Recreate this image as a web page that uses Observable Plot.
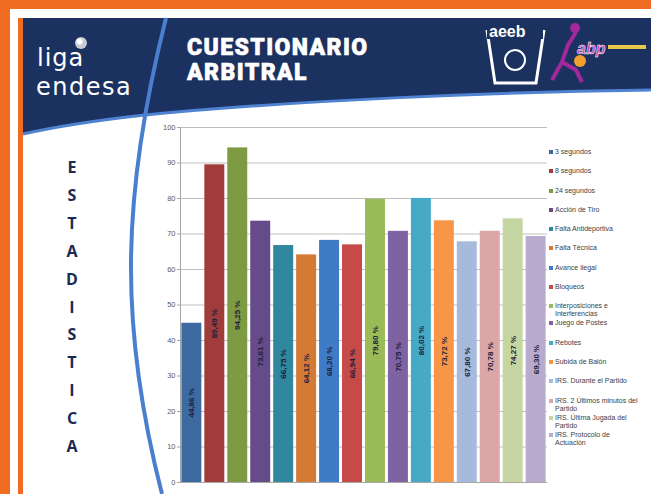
<!DOCTYPE html>
<html>
<head>
<meta charset="utf-8">
<script src="https://cdn.jsdelivr.net/npm/d3@7"></script>
<script src="https://cdn.jsdelivr.net/npm/@observablehq/plot@0.6"></script>
<style>
  html, body { margin: 0; padding: 0; }
  body { width: 651px; height: 494px; overflow: hidden; position: relative; background: #f06c22; font-family: "Liberation Sans", Arial, sans-serif; }
  #deco { position: absolute; left: 0; top: 0; }
  #chart { position: absolute; left: 150px; top: 117px; line-height: 0; }
  #legend { position: absolute; left: 549px; top: 148px; width: 110px; font-size: 7px; color: #404040; line-height: 8px; }
  #legend .item { display: flex; align-items: flex-start; }
  #legend .sw { width: 4px; height: 4px; margin: 2px 2px 0 0; flex: none; }
  #legend .lab { white-space: pre; }
  #side { position: absolute; left: 60px; top: 154px; width: 24px; text-align: center; font-family: "Open Sans", "Liberation Sans", sans-serif; font-weight: 700; font-size: 16px; color: #1b2a55; line-height: 27.9px; }
</style>
</head>
<body>
<svg id="deco" width="651" height="494">
  <rect x="10" y="9" width="641" height="485" fill="#ffffff"/>
  <rect x="18" y="18" width="5" height="476" fill="#f06c22"/>
  <path d="M23,18 H651 V90 C 500,92 300,100 145,115 C 90,121 50,128 23,134 Z" fill="#1b3260"/>
  <path d="M23,134 C 50,128 90,121 145,115 C 300,100 500,92 651,90" fill="none" stroke="#4f83d1" stroke-width="3"/>
  <path d="M166,18 C 120,200 120,330 162,494" fill="none" stroke="#4a7fd0" stroke-width="4"/>
  <circle cx="81" cy="43" r="6" fill="#c9ccd3"/>
  <circle cx="79.5" cy="41.5" r="3" fill="#ffffff"/>
  <text x="37" y="66" fill="#ffffff" font-family="DejaVu Sans, sans-serif" font-size="24" letter-spacing="1">liga</text>
  <text x="36" y="95" fill="#ffffff" font-family="DejaVu Sans, sans-serif" font-size="24" letter-spacing="1.5">endesa</text>
  <text fill="#ffffff" stroke="#ffffff" stroke-width="0.6" font-family="Roboto, sans-serif" font-weight="900" font-size="23" letter-spacing="1.4"><tspan x="187" y="55">CUESTIONARIO</tspan><tspan x="187" y="80">ARBITRAL</tspan></text>
  <g stroke="#ffffff" fill="none" stroke-width="3">
    <path d="M487,30 L495,83 L536,83 L544,30"/>
    <circle cx="515" cy="60" r="10" stroke-width="2"/>
  </g>
  <rect x="487" y="23" width="56" height="16" fill="#1b3260"/>
  <text x="489" y="37" fill="#ffffff" font-family="Liberation Sans, sans-serif" font-weight="700" font-size="16">aeeb</text>
  <path d="M552,80 L562,62 L568,45 L576,32 M562,62 L576,70 L582,82" fill="none" stroke="#a3289c" stroke-width="4"/>
  <circle cx="575" cy="28" r="5" fill="#a3289c"/>
  <circle cx="580" cy="61" r="6" fill="#f0a030"/>
  <text x="577" y="54" fill="#c83cba" stroke="#ffffff" stroke-width="0.5" font-family="Liberation Sans, sans-serif" font-style="italic" font-weight="700" font-size="16">abp</text>
  <rect x="608" y="45" width="38" height="4" fill="#e6c84a"/>
</svg>
<div id="side">E<br>S<br>T<br>A<br>D<br>I<br>S<br>T<br>I<br>C<br>A</div>
<div id="chart"></div>
<div id="legend"></div>
<script>
const categories = [
  "3 segundos", "8 segundos", "24 segundos", "Acción de Tiro",
  "Falta Antideportiva", "Falta Técnica", "Avance ilegal", "Bloqueos",
  "Interposiciones e Interferencias", "Juego de Postes", "Rebotes", "Subida de Balón",
  "IRS. Durante el Partido", "IRS. 2 Últimos minutos del Partido",
  "IRS. Última Jugada del Partido", "IRS. Protocolo de Actuación"
];
const legendLabels = [
  "3 segundos", "8 segundos", "24 segundos", "Acción de Tiro",
  "Falta Antideportiva", "Falta Técnica", "Avance ilegal", "Bloqueos",
  "Interposiciones e\nInterferencias", "Juego de Postes", "Rebotes", "Subida de Balón",
  "IRS. Durante el Partido", "IRS. 2 Últimos minutos del\nPartido",
  "IRS. Última Jugada del\nPartido", "IRS. Protocolo de\nActuación"
];
const values = [44.86, 89.49, 94.25, 73.61, 66.75, 64.12, 68.20, 66.94, 79.80, 70.75, 80.02, 73.72, 67.80, 70.78, 74.27, 69.30];
const colors = [
  "#3c6aa1", "#a03c3a", "#7e9a43", "#654b8a", "#31879e", "#d57a35", "#3f7bc6", "#c64a48",
  "#9bbb59", "#7f62a1", "#46a9c5", "#f79646", "#a6badb", "#dba6a6", "#c5d6a2", "#b8abcd"
];
const yTicks = [0, 10, 20, 30, 40, 50, 60, 70, 80, 90, 100];

const data = categories.map((c, i) => ({category: c, value: values[i]}));
const fmt = v => v.toFixed(2).replace(".", ",") + " %";

const chart = Plot.plot({
  width: 400,
  height: 375,
  marginLeft: 30,
  marginRight: 3,
  marginTop: 10,
  marginBottom: 10,
  style: {fontFamily: "Liberation Sans, Arial, sans-serif", fontSize: "7.5px", color: "#595959", background: "transparent"},
  x: {domain: categories, axis: null, paddingInner: 0.13, paddingOuter: 0.06, round: false},
  y: {domain: [0, 100], label: null},
  color: {domain: categories, range: colors},
  marks: [
    Plot.gridY(yTicks, {stroke: "#bfbfbf", strokeOpacity: 1}),
    Plot.axisY(yTicks, {tickSize: 3, tickPadding: 2, stroke: "#a6a6a6", fill: "#595959", label: null}),
    Plot.barY(data, {x: "category", y: "value", fill: "category"}),
    Plot.text(data, {x: "category", y: d => d.value / 2, text: d => fmt(d.value), rotate: -90, fontSize: 8, fontWeight: "bold", fill: "#1f1f3a"}),
    Plot.ruleY([0], {stroke: "#a6a6a6"}),
    Plot.frame({anchor: "left", stroke: "#a6a6a6"})
  ]
});
document.getElementById("chart").appendChild(chart);

const legend = document.getElementById("legend");
const itemHeights = legendLabels.map(l => l.includes("\n") ? 17 : 19.3);
legendLabels.forEach((l, i) => {
  const item = document.createElement("div");
  item.className = "item";
  item.style.height = itemHeights[i] + "px";
  const sw = document.createElement("div");
  sw.className = "sw";
  sw.style.background = colors[i];
  const lab = document.createElement("div");
  lab.className = "lab";
  lab.textContent = l;
  item.appendChild(sw);
  item.appendChild(lab);
  legend.appendChild(item);
});
</script>
</body>
</html>
